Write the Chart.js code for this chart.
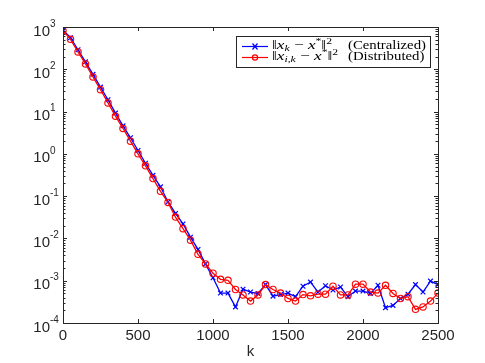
<!DOCTYPE html>
<html><head><meta charset="utf-8">
<script src="https://cdn.jsdelivr.net/npm/chart.js@4/dist/chart.umd.min.js"></script>
<style>html,body{margin:0;padding:0;background:#fff}#wrap{width:485px;height:363px;position:relative}</style>
</head><body><div id="wrap"><canvas id="c"></canvas></div>
<script>
const kValues = [0,50,100,150,200,250,300,350,400,450,500,550,600,650,700,750,800,850,900,950,1000,1050,1100,1150,1200,1250,1300,1350,1400,1450,1500,1550,1600,1650,1700,1750,1800,1850,1900,1950,2000,2050,2100,2150,2200,2250,2300,2350,2400,2450,2500];
const centralized = [850,560,290,150,76,38,19,9.2,4.6,2.4,1.2,0.6,0.31,0.166,0.073,0.039,0.022,0.0107,0.0055,0.0025,0.00117,0.00051,0.00051,0.00024,0.00063,0.00054,0.0005,0.00081,0.00043,0.00047,0.00051,0.00042,0.00074,0.00093,0.00054,0.00076,0.0006,0.00071,0.00042,0.00057,0.00057,0.0005,0.00078,0.00023,0.00026,0.00038,0.00048,0.00081,0.00054,0.00098,0.00081];
const distributed = [830,510,257,134,66,33,16,7.8,4.0,2.0,1.0,0.52,0.26,0.13,0.071,0.032,0.017,0.0091,0.0042,0.0025,0.0015,0.00108,0.00102,0.00062,0.00046,0.00033,0.00046,0.00081,0.00062,0.00051,0.00038,0.00033,0.00047,0.00044,0.00048,0.00048,0.00074,0.00046,0.00046,0.00083,0.00083,0.00054,0.00051,0.00078,0.0005,0.00038,0.00042,0.00021,0.00024,0.00033,0.00051];
const xTickValues = [0,500,1000,1500,2000,2500];
const yExponents = [3,2,1,0,-1,-2,-3,-4];
const yMinorMultipliers = [2,3,4,5,6,7,8,9];
const xLabel = 'k';
const legendRows = [
  {color:'#0000ff', marker:'x', word:'(Centralized)', parts:[['‖','n'],['x','i'],['k','i','sub'],[' − ','n'],['x','i'],['*','n','sup'],['‖','n'],['2','n','sup']]},
  {color:'#ff0000', marker:'o', word:'(Distributed)', parts:[['‖','n'],['x','i'],['i,k','i','sub'],[' − ','n'],['x','i'],['*','n','sup'],['‖','n'],['2','n','sup']]}
];

const AXIS = '#262626';
const yTickValues = [];
yExponents.slice().sort((a,b)=>a-b).forEach(e => {
  yTickValues.push({value: Math.pow(10,e), major: true, exp: e});
  if (e < 3) yMinorMultipliers.forEach(m => yTickValues.push({value: m*Math.pow(10,e), major: false}));
});

const frame = {
  id: 'frame',
  afterDraw(chart) {
    const ctx = chart.ctx, a = chart.chartArea, xs = chart.scales.x, ys = chart.scales.y;
    ctx.save();
    ctx.strokeStyle = AXIS; ctx.lineWidth = 1;
    ctx.strokeRect(Math.round(a.left)+0.5, Math.round(a.top)+0.5, Math.round(a.right-a.left), Math.round(a.bottom-a.top));
    ctx.beginPath();
    xs.ticks.forEach(t => {
      const px = Math.round(xs.getPixelForValue(t.value))+0.5;
      ctx.moveTo(px, a.bottom); ctx.lineTo(px, a.bottom-4);
      ctx.moveTo(px, a.top); ctx.lineTo(px, a.top+4);
    });
    ys.ticks.forEach(t => {
      const py = Math.round(ys.getPixelForValue(t.value))+0.5;
      const L = t.major ? 4 : 2.5;
      ctx.moveTo(a.left, py); ctx.lineTo(a.left+L, py);
      ctx.moveTo(a.right, py); ctx.lineTo(a.right-L, py);
    });
    ctx.stroke();
    // exponents of y tick labels
    ctx.fillStyle = AXIS;
    ctx.font = '10px "Liberation Sans", Arial, sans-serif';
    ctx.textAlign = 'left'; ctx.textBaseline = 'middle';
    yExponents.forEach(e => {
      const py = ys.getPixelForValue(Math.pow(10,e));
      ctx.fillText(String(e), a.left-13, py-3);
    });
    // legend
    const bx = 236, by = 36, bw = 194, bh = 31;
    ctx.fillStyle = '#fff';
    ctx.fillRect(bx, by, bw, bh);
    ctx.strokeStyle = AXIS;
    ctx.strokeRect(bx+0.5, by+0.5, bw, bh);
    const base = 12.5, small = 8.5;
    const fontFor = (p) => {
      const sz = p[2] ? small : base;
      return (p[1]==='i' ? 'italic ' : '') + sz + 'px "Liberation Serif", "DejaVu Serif", serif';
    };
    const widthOf = (row) => row.parts.reduce((s,p)=>{ctx.font = fontFor(p); return s + ctx.measureText(p[0]).width;}, 0);
    const mathScale = 60 / widthOf(legendRows[0]);
    ctx.font = base + 'px "Liberation Serif", "DejaVu Serif", serif';
    const wordScale = 78 / ctx.measureText(legendRows[0].word).width;
    legendRows.forEach((row, i) => {
      const cy = 46 + i*11;
      ctx.strokeStyle = row.color; ctx.lineWidth = 1.2;
      ctx.beginPath(); ctx.moveTo(242, cy+0.5); ctx.lineTo(268, cy+0.5); ctx.stroke();
      ctx.beginPath();
      if (row.marker === 'x') {
        ctx.moveTo(252.5, cy-2.5); ctx.lineTo(257.5, cy+3.5);
        ctx.moveTo(257.5, cy-2.5); ctx.lineTo(252.5, cy+3.5);
      } else {
        ctx.arc(255, cy+0.5, 2.6, 0, Math.PI*2);
      }
      ctx.stroke();
      ctx.fillStyle = '#000';
      ctx.textAlign = 'left'; ctx.textBaseline = 'middle';
      ctx.save();
      ctx.translate(272, cy);
      ctx.scale(mathScale, 1);
      let x = 0;
      row.parts.forEach(p => {
        ctx.font = fontFor(p);
        const dy = p[2]==='sub' ? 3 : (p[2]==='sup' ? -4 : 0);
        ctx.fillText(p[0], x, dy);
        x += ctx.measureText(p[0]).width;
      });
      ctx.restore();
      ctx.save();
      ctx.translate(348, cy);
      ctx.scale(wordScale, 1);
      ctx.font = base + 'px "Liberation Serif", "DejaVu Serif", serif';
      ctx.fillText(row.word, 0, 0);
      ctx.restore();
    });
    ctx.restore();
  }
};

new Chart(document.getElementById('c'), {
  type: 'line',
  data: {
    datasets: [
      {label: 'Centralized', data: kValues.map((k,i)=>({x:k, y:centralized[i]})), borderColor:'#0000ff', backgroundColor:'#0000ff',
       borderWidth:1.3, pointStyle:'crossRot', pointRadius:3.3, pointBorderWidth:1.2, order:1, tension:0},
      {label: 'Distributed', data: kValues.map((k,i)=>({x:k, y:distributed[i]})), borderColor:'#ff0000', backgroundColor:'rgba(0,0,0,0)',
       borderWidth:1.3, pointStyle:'circle', pointRadius:3.2, pointBorderWidth:1.1, order:0, tension:0}
    ]
  },
  options: {
    responsive: true, maintainAspectRatio: false, animation: false,
    layout: {padding: {top: 27, right: 47, left: 0, bottom: 0}},
    plugins: {legend: {display:false}, tooltip: {enabled:false}},
    scales: {
      x: {
        type: 'linear', min: 0, max: 2500,
        afterBuildTicks: (s) => { s.ticks = xTickValues.map(v => ({value: v})); },
        afterFit: (s) => { s.height = 40; },
        grid: {display:false, drawTicks:false},
        border: {display:false},
        ticks: {color: AXIS, font: {family:'"Liberation Sans", Arial, sans-serif', size:15}, padding: 4, maxRotation:0, autoSkip:false,
          callback: (v) => String(v)},
        title: {display:true, text: xLabel, color: AXIS, font: {family:'"Liberation Sans", Arial, sans-serif', size:15}, padding:{top:0,bottom:2}}
      },
      y: {
        type: 'logarithmic', min: 1e-4, max: 1e3,
        afterBuildTicks: (s) => { s.ticks = yTickValues.map(t => ({value: t.value, major: t.major})); },
        afterFit: (s) => { s.width = 63; },
        grid: {display:false, drawTicks:false},
        border: {display:false},
        ticks: {color: AXIS, font: {family:'"Liberation Sans", Arial, sans-serif', size:15}, padding: 13, labelOffset: 4.5, autoSkip:false,
          callback: (v) => { const l = Math.log10(v); return Math.abs(l - Math.round(l)) < 1e-9 ? '10' : ''; }}
      }
    }
  },
  plugins: [frame]
});
</script></body></html>
